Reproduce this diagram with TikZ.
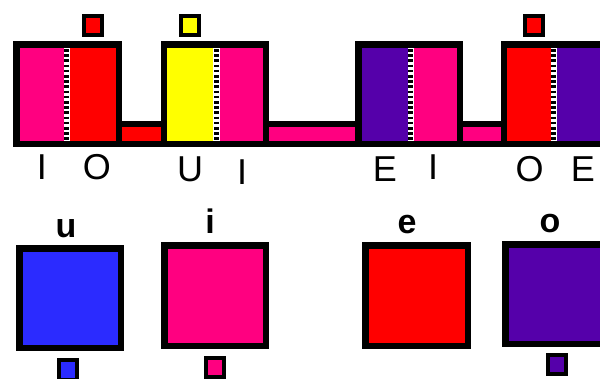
\documentclass[tikz,border=0pt]{standalone}
\usepackage{fontspec}
\setmainfont{Liberation Sans}
\definecolor{mag}{RGB}{255,0,128}
\definecolor{rd}{RGB}{255,0,0}
\definecolor{yl}{RGB}{255,255,0}
\definecolor{pu}{RGB}{85,0,170}
\definecolor{bl}{RGB}{43,43,255}
\begin{document}
\begin{tikzpicture}[x=1pt,y=-1pt,
  frame/.style={fill=black},
  divbox/.style={fill=white},
  dashline/.style={draw=black,line width=5pt,dash pattern=on 2.6pt off 2.6pt},
  tickbox/.style={draw=black,line width=4pt},
  lbl/.style={font=\fontsize{36}{36}\selectfont,inner sep=0pt,anchor=base},
  blbl/.style={font=\fontsize{34}{34}\selectfont\bfseries,inner sep=0pt,anchor=base}]
\useasboundingbox[fill=white] (0,0) rectangle (600,378);
% ---- top row: bars (behind blocks)
\fill[frame] (120,121) rectangle (163,147);
\fill[rd] (120,127) rectangle (163,141);
\fill[frame] (267,121) rectangle (357,147);
\fill[mag] (267,127) rectangle (357,141);
\fill[frame] (461,121) rectangle (502,147);
\fill[mag] (461,127) rectangle (502,141);
% ---- block 1
\fill[frame] (13,41) rectangle (122,147);
\fill[mag] (20,48) rectangle (64,141);
\fill[divbox] (63.5,48) rectangle (70,141);
\draw[dashline] (66.75,49) -- (66.75,141);
\fill[rd] (70,48) rectangle (116,141);
% ---- block 2
\fill[frame] (161,41) rectangle (269,147);
\fill[yl] (167,48) rectangle (213.5,141);
\fill[divbox] (213,48) rectangle (219.5,141);
\draw[dashline] (216.25,49) -- (216.25,141);
\fill[mag] (219.5,48) rectangle (263,141);
% ---- block 3
\fill[frame] (355,41) rectangle (463,147);
\fill[pu] (362,48) rectangle (407.5,141);
\fill[divbox] (407.5,48) rectangle (414,141);
\draw[dashline] (410.75,49) -- (410.75,141);
\fill[mag] (414,48) rectangle (457,141);
% ---- block 4
\fill[frame] (501,41) rectangle (610,147);
\fill[rd] (507,48) rectangle (550.5,141);
\fill[divbox] (550.5,48) rectangle (557,141);
\draw[dashline] (553.75,49) -- (553.75,141);
\fill[pu] (557,48) rectangle (603,141);
% ---- small squares on top
\draw[tickbox,fill=rd] (84,16) rectangle (102,35);
\draw[tickbox,fill=yl] (181,16) rectangle (199,35);
\draw[tickbox,fill=rd] (525,16) rectangle (543,35);
% ---- top labels
\node[lbl] (t1) at (42,179) {I};
\node[lbl] (t2) at (97,179) {O};
\node[lbl] (t3) at (190,181) {U};
\node[lbl] (t4) at (242,184) {I};
\node[lbl] (t5) at (385,181) {E};
\node[lbl] (t6) at (433,179) {I};
\node[lbl] (t7) at (529.5,181) {O};
\node[lbl] (t8) at (583,181) {E};
% ---- bottom big squares
\fill[frame] (16,245) rectangle (124,351);
\fill[bl] (22.5,251.5) rectangle (117.5,344.5);
\fill[frame] (161,242) rectangle (269,349);
\fill[mag] (167.5,248.5) rectangle (262.5,342.5);
\fill[frame] (362,242) rectangle (471,349);
\fill[rd] (368.5,248.5) rectangle (464.5,342.5);
\fill[frame] (502,241) rectangle (610,347);
\fill[pu] (508.5,247.5) rectangle (610,340.5);
% ---- bottom small squares
\draw[tickbox,fill=bl] (59,360) rectangle (77,380);
\draw[tickbox,fill=mag] (206,358) rectangle (224,377);
\draw[tickbox,fill=pu] (548,355) rectangle (566,374);
% ---- bottom labels
\node[blbl] (b1) at (66,237) {u};
\node[blbl] (b2) at (210,233) {i};
\node[blbl] (b3) at (407,233) {e};
\node[blbl] (b4) at (550,232) {o};
\end{tikzpicture}
\end{document}
